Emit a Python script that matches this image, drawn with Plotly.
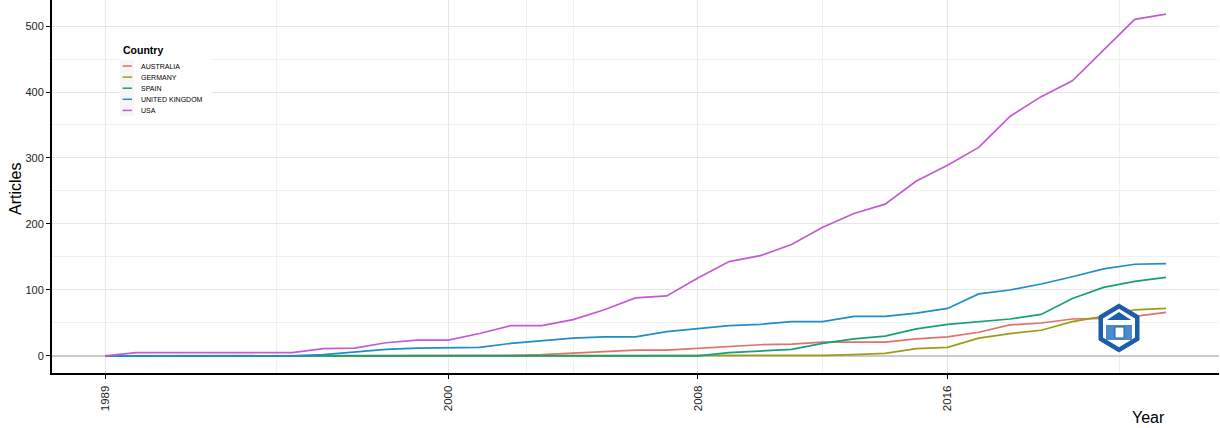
import plotly.graph_objects as go

# ---------------- data ----------------
years = list(range(1989, 2024))
countries = ["AUSTRALIA", "GERMANY", "SPAIN", "UNITED KINGDOM", "USA"]

australia = [0, 0, 0, 0, 0, 0, 0, 0, 0, 0, 0, 0, 0, 1, 2, 4, 6, 9, 9, 12,
             15, 17, 18, 21, 21, 21, 26, 29, 36, 47, 50, 56, 57, 60, 66]
germany = [0, 0, 0, 0, 0, 0, 0, 0, 0, 0, 0, 0, 0, 0, 0, 0, 0, 0, 0, 0,
           0, 0, 1, 1, 2, 4, 11, 13, 27, 34, 39, 52, 60, 70, 72]
spain = [0, 0, 0, 0, 0, 0, 0, 0, 0, 0, 0, 0, 0, 0, 0, 0, 0, 0, 0, 0,
         5, 7, 10, 19, 26, 30, 41, 48, 52, 56, 63, 87, 104, 113, 119]
uk = [0, 0, 0, 0, 0, 0, 0, 2, 6, 10, 12, 13, 13, 19, 23, 27, 29, 29, 37, 42,
      46, 48, 52, 52, 60, 60, 65, 72, 94, 100, 109, 120, 132, 139, 140]
usa = [0, 5, 5, 5, 5, 5, 5, 11, 12, 20, 24, 24, 34, 46, 46, 55, 70, 88, 91, 118,
       143, 152, 169, 195, 216, 230, 265, 289, 316, 363, 393, 417, 464, 510, 518]

series = [australia, germany, spain, uk, usa]
colors = ["#E0716B", "#9C9C18", "#17A077", "#1E8FC6", "#C35BD3"]

x_ticks = [1989, 2000, 2008, 2016]
x_minor = [1994.5, 2002.5, 2004, 2012, 2021.5]
y_ticks = [0, 100, 200, 300, 400, 500]
y_minor = [50, 150, 250, 350, 450]

# ---------------- layout geometry ----------------
W, H = 1220, 428
L, R, T, B = 52, 1, 0, 55
PW, PH = W - L - R, H - T - B
FONT = "Liberation Sans, Arial, sans-serif"


def px(x):
    return (x - L) / PW


def py(y):
    return (H - B - y) / PH


fig = go.Figure()
for name, vals, col in zip(countries, series, colors):
    fig.add_trace(go.Scatter(x=years, y=vals, mode="lines", name=name,
                             line=dict(color=col, width=1.7),
                             showlegend=False))

shapes = []
annotations = []

# manual legend (ggplot style compact)
shapes.append(dict(type="rect", xref="paper", yref="paper",
                   x0=px(119), x1=px(212), y0=py(118), y1=py(38),
                   fillcolor="white", line=dict(width=0), layer="above"))
shapes.append(dict(type="rect", xref="paper", yref="paper",
                   x0=px(120), x1=px(134), y0=py(116), y1=py(60),
                   fillcolor="#f6f6f6", line=dict(width=0), layer="above"))
annotations.append(dict(text="<b>Country</b>", xref="paper", yref="paper",
                        x=px(121), y=py(50.5), xanchor="left", yanchor="middle",
                        showarrow=False, font=dict(size=10.5, color="black", family=FONT)))
for i, (name, col) in enumerate(zip(countries, colors)):
    yy = 66 + 11.1 * i
    shapes.append(dict(type="line", xref="paper", yref="paper",
                       x0=px(122.5), x1=px(132), y0=py(yy), y1=py(yy),
                       line=dict(color=col, width=1.5), layer="above"))
    annotations.append(dict(text=name, xref="paper", yref="paper",
                            x=px(138.5), y=py(yy), xanchor="left", yanchor="middle",
                            showarrow=False, font=dict(size=7, color="black", family=FONT)))

# axis titles
annotations.append(dict(text="Articles", xref="paper", yref="paper",
                        x=px(15), y=py(189), xanchor="center", yanchor="middle",
                        textangle=-90, showarrow=False,
                        font=dict(size=16, color="black", family=FONT)))
annotations.append(dict(text="Year", xref="paper", yref="paper",
                        x=px(1148), y=py(417), xanchor="center", yanchor="middle",
                        showarrow=False, font=dict(size=16, color="black", family=FONT)))

# watermark logo (hexagon)
cx, cy, hw, hh = 1119, 328, 20, 24


def hexpath(s, dy=0):
    pts = [(cx, cy - hh * s + dy), (cx + hw * s, cy - hh * s / 2 + dy),
           (cx + hw * s, cy + hh * s / 2 + dy), (cx, cy + hh * s + dy),
           (cx - hw * s, cy + hh * s / 2 + dy), (cx - hw * s, cy - hh * s / 2 + dy)]
    return "M " + " L ".join(f"{px(a):.5f},{py(b):.5f}" for a, b in pts) + " Z"


shapes.append(dict(type="path", xref="paper", yref="paper", path=hexpath(1.0),
                   fillcolor="#1d5ca9", line=dict(color="#1d5ca9", width=1), layer="above"))
shapes.append(dict(type="path", xref="paper", yref="paper", path=hexpath(0.8),
                   fillcolor="#ffffff", line=dict(width=0), layer="above"))
shapes.append(dict(type="rect", xref="paper", yref="paper",
                   x0=px(cx - 13), x1=px(cx + 13), y0=py(cy + 12), y1=py(cy - 3),
                   fillcolor="#4a8ad0", line=dict(width=0), layer="above"))
shapes.append(dict(type="path", xref="paper", yref="paper",
                   path=f"M {px(cx-12):.5f},{py(cy-8):.5f} L {px(cx):.5f},{py(cy-16):.5f} L {px(cx+12):.5f},{py(cy-8):.5f} Z",
                   fillcolor="#1d5ca9", line=dict(width=0), layer="above"))
shapes.append(dict(type="rect", xref="paper", yref="paper",
                   x0=px(cx - 4), x1=px(cx + 5), y0=py(cy + 10), y1=py(cy - 1),
                   fillcolor="#ffffff", line=dict(color="#1d5ca9", width=1), layer="above"))

fig.update_layout(
    width=W, height=H,
    margin=dict(l=L, r=R, t=T, b=B),
    paper_bgcolor="white", plot_bgcolor="white",
    font=dict(family=FONT, color="#222222"),
    shapes=shapes, annotations=annotations,
    showlegend=False,
)
fig.update_xaxes(
    range=[1987.3, 2024.7], tickmode="array", tickvals=x_ticks,
    ticktext=[str(v) for v in x_ticks], tickangle=-90,
    tickfont=dict(size=11.5, color="#222222"),
    ticks="outside", ticklen=4, tickwidth=1.2, tickcolor="black",
    ticklabelstandoff=2,
    showline=True, linecolor="black", linewidth=2,
    showgrid=True, gridcolor="#e6e6e6", gridwidth=1,
    minor=dict(tickmode="array", tickvals=x_minor, showgrid=True,
               gridcolor="#f0f0f0", gridwidth=1, ticks=""),
    zeroline=False,
)
fig.update_yaxes(
    range=[-25.8, 539.4], tickmode="array", tickvals=y_ticks,
    tickfont=dict(size=11, color="#222222"),
    ticks="outside", ticklen=4, tickwidth=1.2, tickcolor="black",
    showline=True, linecolor="black", linewidth=2,
    showgrid=True, gridcolor="#e6e6e6", gridwidth=1,
    minor=dict(tickmode="array", tickvals=y_minor, showgrid=True,
               gridcolor="#f0f0f0", gridwidth=1, ticks=""),
    zeroline=True, zerolinecolor="#cccccc", zerolinewidth=2,
)

fig.write_html("out.html")
